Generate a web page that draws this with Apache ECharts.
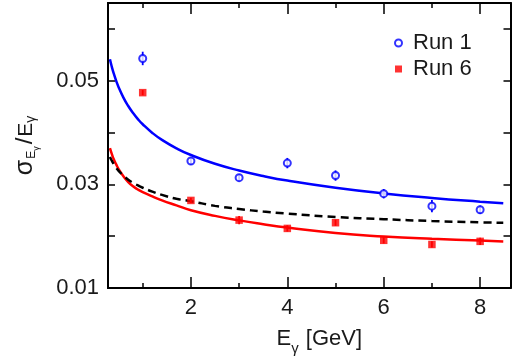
<!DOCTYPE html>
<html>
<head>
<meta charset="utf-8">
<script src="https://cdn.jsdelivr.net/npm/echarts@6/dist/echarts.min.js"></script>
<style>
html,body{margin:0;padding:0;background:#fff;}
#chart{width:520px;height:363px;}
</style>
</head>
<body>
<div id="chart"></div>
<script>
// ---- data ----
const energies = [1, 2, 3, 4, 5, 6, 7, 8];
const run1 = [0.0543, 0.0345, 0.0313, 0.0341, 0.0317, 0.0282, 0.0258, 0.0251];
const run1Err = [0.0013, 0.0007, 0.0007, 0.0010, 0.0010, 0.0009, 0.0012, 0.0008];
const run6 = [0.0477, 0.0269, 0.0231, 0.0215, 0.0226, 0.0192, 0.0184, 0.0190];
const run6Err = [0.0005, 0.0005, 0.0008, 0.0006, 0.0006, 0.0006, 0.0006, 0.0007];

// fitted curves
const curveE = [0.32, 0.36, 0.4, 0.45, 0.5, 0.6, 0.7, 0.8, 0.9, 1.0, 1.2, 1.4, 1.7, 2, 2.5, 3, 3.5, 4, 5, 6, 7, 8, 8.48];
const fitRun1 = [0.05413, 0.05265, 0.05137, 0.04997, 0.04876, 0.04675, 0.04512, 0.04376, 0.04260, 0.04160, 0.03993, 0.03858, 0.03696, 0.03566, 0.03397, 0.03267, 0.03161, 0.03073, 0.02934, 0.02825, 0.02738, 0.02665, 0.02634];
const fitRun6 = [0.03701, 0.03585, 0.03485, 0.03385, 0.03295, 0.03155, 0.03045, 0.02962, 0.02900, 0.02850, 0.02768, 0.02691, 0.02595, 0.02501, 0.02392, 0.02305, 0.02232, 0.02167, 0.02060, 0.01995, 0.01950, 0.01916, 0.01897];
const refCurve = [0.03530, 0.03455, 0.03390, 0.03322, 0.03262, 0.03170, 0.03090, 0.03030, 0.02980, 0.02935, 0.02860, 0.02797, 0.02722, 0.02675, 0.02585, 0.02525, 0.02475, 0.02435, 0.02372, 0.02328, 0.02292, 0.02267, 0.02260];

const xMajor = [2, 4, 6, 8];
const xMinor = [1, 3, 5, 7];
const yTicks = [0.02, 0.03, 0.04, 0.05, 0.06];
const yLabels = [0.01, 0.03, 0.05];

const X_MIN = 0.28, X_MAX = 8.63, Y_MIN = 0.01, Y_MAX = 0.065;
const FONT = '"Liberation Sans", Arial, sans-serif';
const TXT = '#1a1a1a';
const BLUE = '#0000ff', RED = '#ff0000';

const zip = (a, b) => a.map((v, i) => [v, b[i]]);

function xAxisDef(pos, ticks, len, withLabels) {
  return {
    type: 'value', position: pos, min: X_MIN, max: X_MAX,
    axisLine: { show: true, onZero: false, lineStyle: { color: '#000', width: 2 } },
    axisTick: { show: true, inside: true, length: len, customValues: ticks, lineStyle: { color: '#000', width: 1.5 } },
    axisLabel: { show: withLabels, customValues: withLabels ? xMajor : [], fontSize: 22, color: TXT, fontFamily: FONT, margin: 9 },
    splitLine: { show: false }
  };
}

const chart = echarts.init(document.getElementById('chart'), null, { renderer: 'canvas' });

const errorSeries = (vals, errs, color) => ({
  type: 'custom',
  z: 3,
  data: energies.map((e, i) => [e, vals[i], errs[i]]),
  renderItem: function (params, api) {
    const x = api.value(0), v = api.value(1), e = api.value(2);
    const p1 = api.coord([x, v - e]);
    const p2 = api.coord([x, v + e]);
    return {
      type: 'line',
      shape: { x1: p1[0], y1: p1[1], x2: p2[0], y2: p2[1] },
      style: { stroke: color, lineWidth: 1.8 }
    };
  },
  silent: true
});

const curve = (name, vals, color, type) => ({
  name: name, type: 'line', data: zip(curveE, vals), showSymbol: false, symbol: 'none',
  smooth: 0.5,
  lineStyle: { color: color, width: 2.5, type: type || 'solid' }, z: 2, silent: true
});

const option = {
  animation: false,
  backgroundColor: '#fff',
  grid: { left: 108, right: 9.5, top: 3, bottom: 75, containLabel: false },
  legend: {
    orient: 'vertical',
    left: 389, top: 27,
    itemWidth: 7, itemHeight: 7,
    itemGap: 4,
    data: [{ name: 'Run 1' }, { name: 'Run 6' }],
    textStyle: { fontSize: 22, lineHeight: 22, color: TXT, fontFamily: FONT, padding: [0, 0, 0, 6] }
  },
  xAxis: [
    Object.assign(xAxisDef('bottom', xMajor, 11, true), {
      name: 'E{sub|γ} [GeV]', nameLocation: 'middle', nameGap: 40,
      nameTextStyle: {
        fontSize: 22, color: TXT, fontFamily: FONT, padding: [0, 0, 0, 20],
        rich: { sub: { fontSize: 15, fontFamily: FONT, color: TXT, verticalAlign: 'bottom', lineHeight: 15, padding: [0, 1, -6, 0] } }
      }
    }),
    xAxisDef('bottom', xMinor, 5, false),
    xAxisDef('top', xMajor, 11, false),
    xAxisDef('top', xMinor, 5, false)
  ],
  yAxis: [
    {
      type: 'value', position: 'left', min: Y_MIN, max: Y_MAX,
      axisLine: { show: true, onZero: false, lineStyle: { color: '#000', width: 2 } },
      axisTick: { show: true, inside: true, length: 7, customValues: yTicks, lineStyle: { color: '#000', width: 1.5 } },
      axisLabel: { customValues: yLabels, fontSize: 22, color: TXT, fontFamily: FONT, margin: 9,
        formatter: v => v.toFixed(2) },
      splitLine: { show: false },
      name: '{sig|σ}{s|E}{ss|γ}{sl|/}{m|E}{s2|γ}',
      nameLocation: 'middle', nameGap: 70, nameRotate: 90,
      nameTextStyle: {
        padding: [0, 0, 0, 0],
        rich: {
          sig: { fontSize: 25, fontFamily: FONT, color: TXT, lineHeight: 25, verticalAlign: 'top' },
          s: { fontSize: 12, fontFamily: FONT, color: TXT, lineHeight: 12, verticalAlign: 'bottom', padding: [0, 0, 0, 1] },
          ss: { fontSize: 9, fontFamily: FONT, color: TXT, lineHeight: 9, verticalAlign: 'bottom', padding: [0, 1, -3, 0] },
          sl: { fontSize: 24, fontFamily: FONT, color: TXT, lineHeight: 25, verticalAlign: 'top', padding: [0, 1, 0, 1] },
          m: { fontSize: 21, fontFamily: FONT, color: TXT, lineHeight: 25, verticalAlign: 'top', padding: [3, 0, 0, 0] },
          s2: { fontSize: 14, fontFamily: FONT, color: TXT, lineHeight: 14, verticalAlign: 'bottom' }
        }
      }
    },
    {
      type: 'value', position: 'right', min: Y_MIN, max: Y_MAX,
      axisLine: { show: true, onZero: false, lineStyle: { color: '#000', width: 2 } },
      axisTick: { show: true, inside: true, length: 7, customValues: yTicks, lineStyle: { color: '#000', width: 1.5 } },
      axisLabel: { show: false },
      splitLine: { show: false }
    }
  ],
  series: [
    curve('fit1', fitRun1, BLUE),
    curve('fit6', fitRun6, RED),
    curve('ref', refCurve, '#000', [8, 5]),
    errorSeries(run1, run1Err, BLUE),
    errorSeries(run6, run6Err, RED),
    {
      name: 'Run 1', type: 'scatter', data: zip(energies, run1),
      symbol: 'circle', symbolSize: 7,
      itemStyle: { color: '#fff', borderColor: BLUE, borderWidth: 2 }, z: 5
    },
    {
      name: 'Run 6', type: 'scatter', data: zip(energies, run6),
      symbol: 'rect', symbolSize: 7.5,
      itemStyle: { color: RED }, z: 5
    }
  ]
};

chart.setOption(option);
</script>
</body>
</html>
